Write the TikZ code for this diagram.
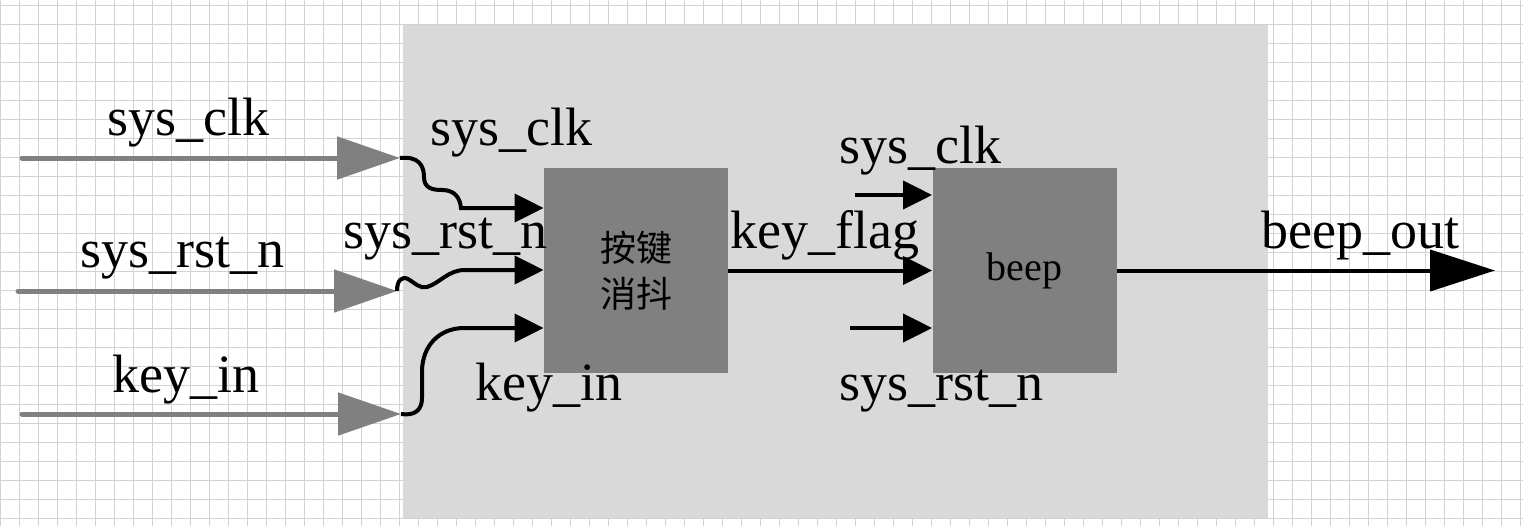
\documentclass[tikz,border=0pt]{standalone}
\usepackage{fontspec}
\setmainfont{Liberation Serif}
\newfontfamily\cjk{Noto Sans CJK SC}
\usetikzlibrary{arrows.meta}

\definecolor{panelgray}{HTML}{D9D9D9}
\definecolor{blockgray}{HTML}{808080}
\definecolor{gridgray}{HTML}{D2D2D2}

\begin{document}
\begin{tikzpicture}[x=0.5pt, y=-0.5pt,
    blk/.style={fill=blockgray, minimum width=92pt, minimum height=102.5pt, inner sep=0pt},
    sig/.style={font=\fontsize{27}{30}\selectfont, anchor=base west, inner sep=0pt},
    inwire/.style={draw=blockgray, line width=2.5pt, line cap=round, -{Triangle[length=31.5pt, width=21pt]}},
    wire/.style={line width=2pt, -{Triangle[length=14.5pt, width=14pt]}},
    outwire/.style={line width=2pt, -{Triangle[length=32.5pt, width=20.5pt]}}]
  \useasboundingbox (0,0) rectangle (1523,526);
  % background grid
  \foreach \gx in {0,19,...,1520}
    \draw[gridgray, line width=0.5pt] (\gx,0) -- (\gx,526);
  \foreach \gy in {5.5,24.5,...,525}
    \draw[gridgray, line width=0.5pt] (0,\gy) -- (1523,\gy);
  \fill[panelgray] (403,25) rectangle (1268,518);

  % the two modules
  \node[blk, font=\cjk\fontsize{18}{23}\selectfont, align=center] (debounce) at (636,270.5) {按键\\消抖};
  \node[blk, font=\fontsize{20}{24}\selectfont] (beep) at (1024.5,270.5) {beep};

  % top level inputs
  \coordinate (clkA) at (22,158);  \coordinate (clkB) at (400,158);
  \coordinate (rstA) at (18,291);  \coordinate (rstB) at (397,291);
  \coordinate (keyA) at (22,414);  \coordinate (keyB) at (401,414);
  \draw[inwire] (clkA) -- (clkB);
  \draw[inwire] (rstA) -- (rstB);
  \draw[inwire] (keyA) -- (keyB);
  \node[sig] (lclk) at (107,135) {sys\_clk};
  \node[sig] (lrst) at (80,267) {sys\_rst\_n};
  \node[sig] (lkey) at (112,392) {key\_in};

  % wiring into debounce
  \coordinate (clkK) at (461,208);
  \coordinate (rstK) at (465,270);
  \coordinate (keyK) at (464,328);
  \draw[wire] (clkB) .. controls (418,156) and (424,165) .. (424,177)
    .. controls (424,188) and (432,190) .. (442,190)
    .. controls (455,190) and (460,198) .. (clkK) -- (clkK -| debounce.west);
  \draw[wire] (rstB) .. controls (397,280) and (402,276) .. (408,279)
    .. controls (415,283) and (420,289) .. (427,287)
    .. controls (440,283) and (448,270) .. (rstK) -- (rstK -| debounce.west);
  \draw[wire] (keyB) .. controls (415,416) and (422,410) .. (422,398) -- (422,372)
    .. controls (422,345) and (440,328) .. (keyK) -- (keyK -| debounce.west);
  \node[sig] (iclk) at (430,145) {sys\_clk};
  \node[sig] (irst) at (343,248) {sys\_rst\_n};
  \node[sig] (ikey) at (475,400) {key\_in};

  % debounce -> beep
  \draw[wire] (debounce.east) -- (beep.west);
  \node[sig] (flag) at (730,248) {key\_flag};
  \coordinate (bclkA) at (855,195);
  \coordinate (brstA) at (850,328);
  \draw[wire] (bclkA) -- (bclkA -| beep.west);
  \draw[wire] (brstA) -- (brstA -| beep.west);
  \node[sig] (bclk) at (839,163) {sys\_clk};
  \node[sig] (brst) at (839,400) {sys\_rst\_n};

  % output
  \coordinate (outB) at (1495,270.5);
  \draw[outwire] (beep.east) -- (outB);
  \node[sig] (bout) at (1261,248) {beep\_out};
\end{tikzpicture}
\end{document}
